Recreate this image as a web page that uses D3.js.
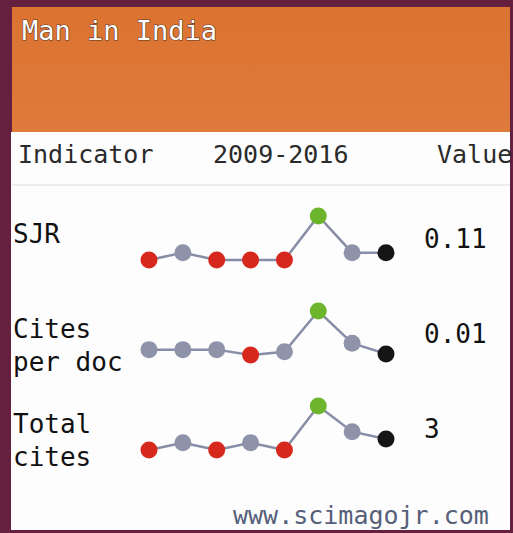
<!DOCTYPE html>
<html>
<head>
<meta charset="utf-8">
<script src="https://cdn.jsdelivr.net/npm/d3@7"></script>
<style>
  html, body { margin: 0; padding: 0; background: #fff; }
  svg { display: block; }
  text { font-family: "DejaVu Sans Mono", "Liberation Mono", monospace; }
</style>
</head>
<body>
<div id="chart"></div>
<script>
const title = 'Man in India';
const period = '2009-2016';
const years = [2009, 2010, 2011, 2012, 2013, 2014, 2015, 2016];
const indicators = ['SJR', 'Cites per doc', 'Total cites'];
const labelLines = [['SJR'], ['Cites', 'per doc'], ['Total', 'cites']];
const sjrValues = [0.10, 0.11, 0.10, 0.10, 0.10, 0.16, 0.11, 0.11];
const citesPerDocValues = [0.05, 0.05, 0.05, 0.00, 0.03, 0.41, 0.11, 0.01];
const totalCitesValues = [0, 2, 0, 2, 0, 12, 5, 3];
const shownValues = ['0.11', '0.01', '3'];

const series = [sjrValues, citesPerDocValues, totalCitesValues];

const width = 513, height = 533;

const svg = d3.select('#chart').append('svg')
    .attr('width', width)
    .attr('height', height);

// frame
svg.append('rect').attr('width', width).attr('height', height).attr('fill', '#65203f');

const grad = svg.append('defs').append('linearGradient')
    .attr('id', 'hdr').attr('x1', 0).attr('x2', 0).attr('y1', 0).attr('y2', 1);
grad.append('stop').attr('offset', '0%').attr('stop-color', '#dc7330');
grad.append('stop').attr('offset', '100%').attr('stop-color', '#de7a3c');

svg.append('rect')
    .attr('x', 12).attr('y', 7).attr('width', 498).attr('height', 125)
    .attr('fill', 'url(#hdr)');

svg.append('rect')
    .attr('x', 11).attr('y', 132).attr('width', 499).attr('height', 398)
    .attr('fill', '#fdfdfd');

// title
svg.append('text')
    .attr('x', 22).attr('y', 40)
    .attr('font-size', 27)
    .attr('fill', '#fff')
    .attr('stroke', '#5a3a28')
    .attr('stroke-width', 1.2)
    .attr('paint-order', 'stroke')
    .text(title);

// table header
const head = svg.append('g').attr('font-size', 25).attr('fill', '#2a2a2a');
head.append('text').attr('x', 18).attr('y', 163).text('Indicator');
head.append('text').attr('x', 213).attr('y', 163).text(period);
head.append('text').attr('x', 437).attr('y', 163).text('Value');

svg.append('line')
    .attr('x1', 12).attr('x2', 510).attr('y1', 185).attr('y2', 185)
    .attr('stroke', '#e6e6e6').attr('stroke-width', 1.5);

// scales
const x = d3.scalePoint().domain(years).range([149, 386]);
const rowY = d3.scalePoint().domain(indicators).range([260, 450]);
const sparkHeight = 44;

const colorFor = (vals, i) => {
    const mn = d3.min(vals), mx = d3.max(vals);
    if (i === vals.length - 1) return '#151515';
    if (vals[i] === mx) return '#6cb52c';
    if (vals[i] === mn) return '#d6281c';
    return '#8e93aa';
};

indicators.forEach((name, r) => {
    const vals = series[r];
    const base = rowY(name);
    const y = d3.scaleLinear()
        .domain(d3.extent(vals))
        .range([base, base - sparkHeight]);

    const g = svg.append('g').attr('class', 'row');

    // label
    const lbl = g.append('text').attr('font-size', 26).attr('fill', '#111');
    labelLines[r].forEach((ln, k) => {
        lbl.append('tspan').attr('x', 13).attr('y', base - 17 + k * 33).text(ln);
    });

    // sparkline
    const line = d3.line().x((d, i) => x(years[i])).y(d => y(d));
    g.append('path')
        .datum(vals)
        .attr('d', line)
        .attr('fill', 'none')
        .attr('stroke', '#878da6')
        .attr('stroke-width', 2.5);

    g.selectAll('circle')
        .data(vals)
        .enter().append('circle')
        .attr('cx', (d, i) => x(years[i]))
        .attr('cy', d => y(d))
        .attr('r', 8.5)
        .attr('fill', (d, i) => colorFor(vals, i));

    // value
    g.append('text')
        .attr('x', 424).attr('y', base - 12)
        .attr('font-size', 26).attr('fill', '#111')
        .text(shownValues[r]);
});

// footer
svg.append('text')
    .attr('x', 233).attr('y', 524)
    .attr('font-size', 25)
    .attr('fill', '#55607a')
    .text('www.scimagojr.com');
</script>
</body>
</html>
